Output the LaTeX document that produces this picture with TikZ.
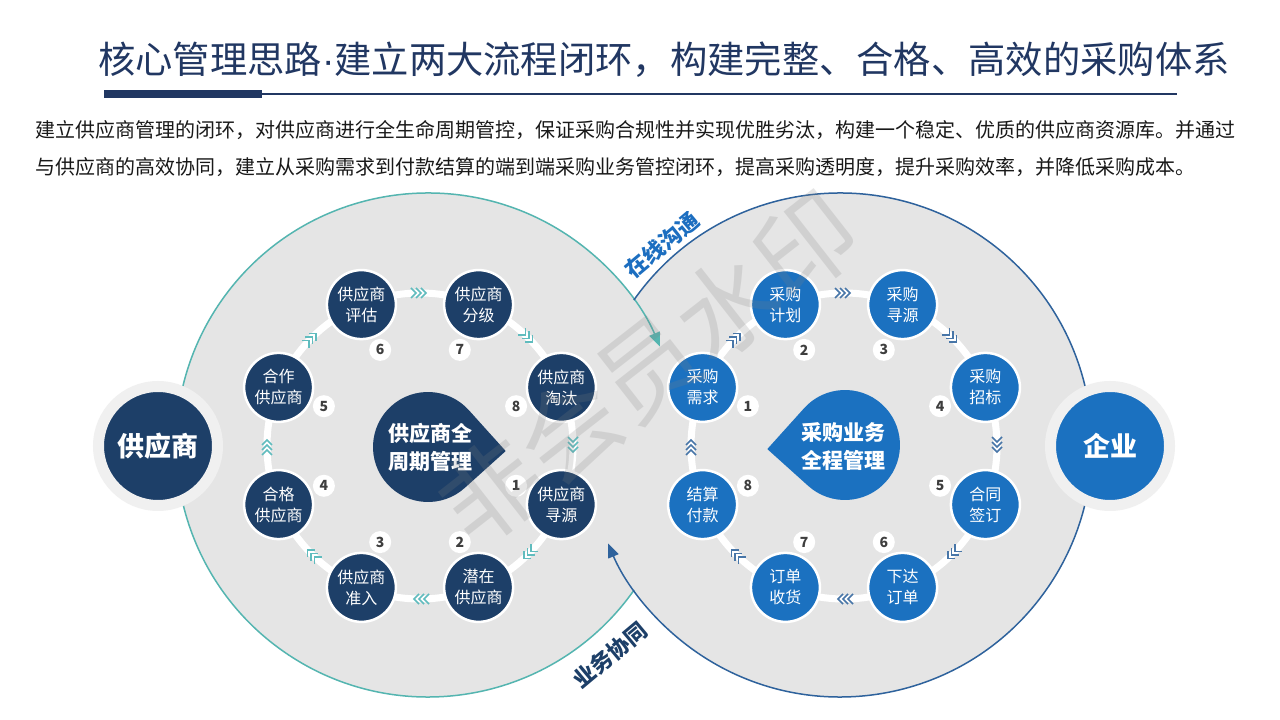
\documentclass[tikz,border=0pt]{standalone}
\usepackage{fontspec}
\usetikzlibrary{arrows.meta}
\setmainfont{Noto Sans CJK SC}
\newfontfamily\latinf{Liberation Sans}

\definecolor{supnavy}{RGB}{29,63,104}
\definecolor{purblue}{RGB}{27,113,192}
\definecolor{bggray}{RGB}{229,229,229}
\definecolor{ringgray}{RGB}{240,240,240}
\definecolor{tealline}{RGB}{84,181,176}
\definecolor{blueline}{RGB}{46,98,156}
\definecolor{chevteal}{RGB}{96,188,190}
\definecolor{chevblue}{RGB}{72,118,168}
\definecolor{titlenavy}{RGB}{33,55,98}
\definecolor{numgray}{RGB}{62,62,62}
\definecolor{tagblue}{RGB}{28,110,192}

\tikzset{
  chev/.pic={\foreach \k in {-5,0,5} \draw (\k-4,5) -- (\k+1,0) -- (\k-4,-5);}
}

\begin{document}
\begin{tikzpicture}[x=1pt, y=1pt,
  snode/.style={circle, fill=supnavy, draw=white, line width=2.5pt, minimum size=69pt, inner sep=0pt,
    text=white, align=center, font=\fontsize{16}{21}\selectfont},
  pnode/.style={snode, fill=purblue},
  num/.style={circle, fill=white, minimum size=22pt, inner sep=0pt, text=numgray,
    font=\bfseries\fontsize{14}{14}\selectfont},
  bignode/.style={circle, draw=ringgray, line width=11pt, minimum size=119pt, inner sep=0pt,
    text=white, font=\bfseries\fontsize{27}{30}\selectfont},
  core/.style={text=white, align=center, font=\bfseries\fontsize{21}{28}\selectfont},
  tag/.style={rotate=40, font=\bfseries\fontsize{22}{24}\selectfont},
  tip/.style={-{Triangle[length=14pt,width=11pt]}, line width=1.5pt}]
\useasboundingbox (0,0) rectangle (1280,720);
\fill[white] (0,0) rectangle (1280,720);

% title and intro
\node[anchor=west, inner sep=0pt, text=titlenavy, font=\fontsize{37.3}{40}\selectfont] (title) at (98,660)
  {核心管理思路{\latinf ·}建立两大流程闭环，构建完整、合格、高效的采购体系};
\fill[titlenavy] (104,622) rectangle (262,630);
\draw[titlenavy, line width=2.5pt] (262,626) -- (1177,626);
\node[anchor=west, inner sep=0pt, text=black!90, font=\fontsize{20}{24}\selectfont] (intro1) at (35,590)
  {建立供应商管理的闭环，对供应商进行全生命周期管控，保证采购合规性并实现优胜劣汰，构建一个稳定、优质的供应商资源库。并通过};
\node[anchor=west, inner sep=0pt, text=black!90, font=\fontsize{20}{24}\selectfont] (intro2) at (35,553)
  {与供应商的高效协同，建立从采购需求到付款结算的端到端采购业务管控闭环，提高采购透明度，提升采购效率，并降低采购成本。};

% the two loops
\fill[bggray] (428,275) circle[radius=252];
\fill[bggray] (840,275) circle[radius=252];
\draw[tealline, tip] (428,275) ++(-35.1:252) arc[start angle=-35.1, end angle=-337, radius=252];
\draw[blueline, tip] (840,275) ++(144.9:252) arc[start angle=144.9, end angle=-157, radius=252];

\node[bignode, fill=supnavy] (sup) at (158,274) {供应商};
\node[bignode, fill=purblue] (ent) at (1110,274) {企业};

% rings
\draw[white, line width=7pt] (420,274) circle[radius=153];
\draw[white, line width=7pt] (844,274) circle[radius=153];
\foreach \a in {0,45,...,315}
  \pic[color=chevteal, line width=1.6pt, rotate=\a-90] at ([shift={(\a:153)}]420,274) {chev};
\foreach \a in {0,45,...,315}
  \pic[color=chevblue, line width=1.6pt, rotate=\a-90] at ([shift={(\a:153)}]844,274) {chev};

% centre drops
\fill[supnavy] ([shift={(-3:77.8)}]428,273) -- ([shift={(42:55)}]428,273)
  arc[start angle=42, end angle=312, radius=55] -- cycle;
\node[core] (sCore) at (430,273) {供应商全\\周期管理};
\fill[purblue] ([shift={(183:77.8)}]845,275) -- ([shift={(228:55)}]845,275)
  arc[start angle=228, end angle=498, radius=55] -- cycle;
\node[core] (pCore) at (843,273) {采购业务\\全程管理};

% supplier cycle
\node[snode] (sSource) at (561.4,215.4) {供应商\\寻源};
\node[snode] (sPotential) at (478.6,132.6) {潜在\\供应商};
\node[snode] (sAdmit) at (361.4,132.6) {供应商\\准入};
\node[snode] (sQualified) at (278.6,215.4) {合格\\供应商};
\node[snode] (sPartner) at (278.6,332.6) {合作\\供应商};
\node[snode] (sEval) at (361.4,415.4) {供应商\\评估};
\node[snode] (sGrade) at (478.6,415.4) {供应商\\分级};
\node[snode] (sElim) at (561.4,332.6) {供应商\\淘汰};

\node[num] (sn1) at (516.1,234.2) {1};
\node[num] (sn2) at (459.8,177.9) {2};
\node[num] (sn3) at (380.2,177.9) {3};
\node[num] (sn4) at (323.9,234.2) {4};
\node[num] (sn5) at (323.9,313.8) {5};
\node[num] (sn6) at (380.2,370.1) {6};
\node[num] (sn7) at (459.8,370.1) {7};
\node[num] (sn8) at (516.1,313.8) {8};

% purchase cycle
\node[pnode] (pDemand) at (702.6,332.6) {采购\\需求};
\node[pnode] (pPlan) at (785.4,415.4) {采购\\计划};
\node[pnode] (pSource) at (902.6,415.4) {采购\\寻源};
\node[pnode] (pBid) at (985.4,332.6) {采购\\招标};
\node[pnode] (pContract) at (985.4,215.4) {合同\\签订};
\node[pnode] (pOrder) at (902.6,132.6) {下达\\订单};
\node[pnode] (pReceive) at (785.4,132.6) {订单\\收货};
\node[pnode] (pPay) at (702.6,215.4) {结算\\付款};

\node[num] (pn1) at (747.9,313.8) {1};
\node[num] (pn2) at (804.2,370.1) {2};
\node[num] (pn3) at (883.8,370.1) {3};
\node[num] (pn4) at (940.1,313.8) {4};
\node[num] (pn5) at (940.1,234.2) {5};
\node[num] (pn6) at (883.8,177.9) {6};
\node[num] (pn7) at (804.2,177.9) {7};
\node[num] (pn8) at (747.9,234.2) {8};

% crossing labels
\node[tag, text=tagblue] (tagOnline) at (662,475) {在线沟通};
\node[tag, text=supnavy] (tagBiz) at (610,65) {业务协同};

% watermark
\node[rotate=38, text=gray, opacity=0.2, font=\fontsize{100}{100}\selectfont] (wmark) at (648,352) {非会员水印};
\end{tikzpicture}
\end{document}
